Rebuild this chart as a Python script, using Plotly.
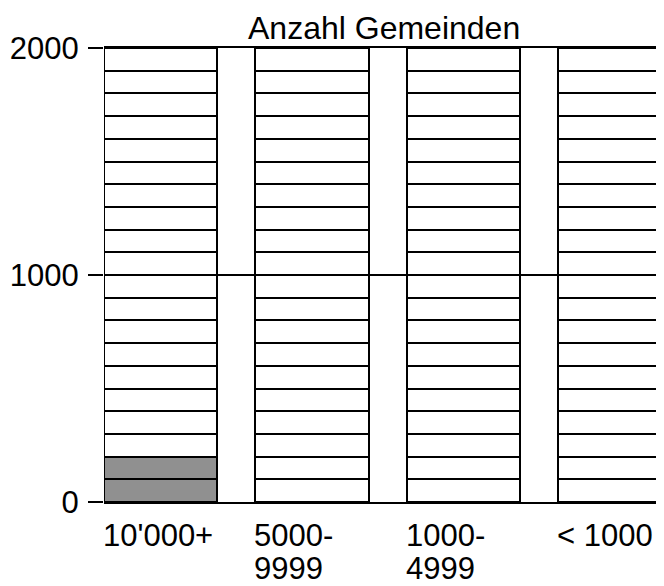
import plotly.graph_objects as go

# Data
categories = [0, 1, 2, 3]
tick_labels = ["10'000+", "5000-<br>9999", "1000-<br>4999", "< 1000"]
filled_values = [200, 0, 0, 0]   # Anzahl Gemeinden (grey part)
capacity = 2000                  # total height of each column
segment = 100                    # size of one block
y_ticks = [0, 1000, 2000]

FONT = "Liberation Sans, Arial, Helvetica, sans-serif"
FS = 31
GREY = "#909090"
BAR_W = 0.75

fig = go.Figure()
n_seg = capacity // segment
for k in range(n_seg):
    lo = k * segment
    colors = [GREY if lo < v else "white" for v in filled_values]
    fig.add_trace(go.Bar(
        x=categories,
        y=[segment] * len(categories),
        width=BAR_W,
        marker=dict(color=colors, line=dict(color="black", width=2)),
        showlegend=False,
        hoverinfo="skip",
    ))

# x labels, left aligned with column left edges
for xi, lab in zip(categories, tick_labels):
    for j, line in enumerate(lab.split("<br>")):
        fig.add_annotation(
            x=xi - BAR_W / 2, xref="x", xanchor="left", xshift=-3,
            y=0, yref="paper", yanchor="top",
            yshift=-14 - j * 33,
            text=line, showarrow=False, align="left",
            font=dict(family=FONT, size=FS, color="black"),
        )

fig.add_annotation(
    x=0.5, xref="paper", xanchor="center",
    y=1, yref="paper", yanchor="bottom", yshift=0,
    text="Anzahl Gemeinden", showarrow=False,
    font=dict(family=FONT, size=32, color="black"),
)

fig.update_layout(
    barmode="stack",
    width=656, height=578,
    margin=dict(l=96, r=0, t=40, b=84, pad=0),
    paper_bgcolor="white", plot_bgcolor="white",
    font=dict(family=FONT, size=FS, color="black"),
    xaxis=dict(range=[-BAR_W / 2, 3.326], showgrid=False, zeroline=False,
               showticklabels=False, ticks="", showline=True, mirror=True,
               linecolor="black", linewidth=2, fixedrange=True),
    yaxis=dict(range=[0, capacity], tickvals=y_ticks, ticks="outside",
               ticklen=15, tickwidth=2, tickcolor="black",
               showgrid=True, gridcolor="black", gridwidth=1.5,
               zeroline=False, showline=False, ticklabelstandoff=3),
)

fig.write_html("out.html")
